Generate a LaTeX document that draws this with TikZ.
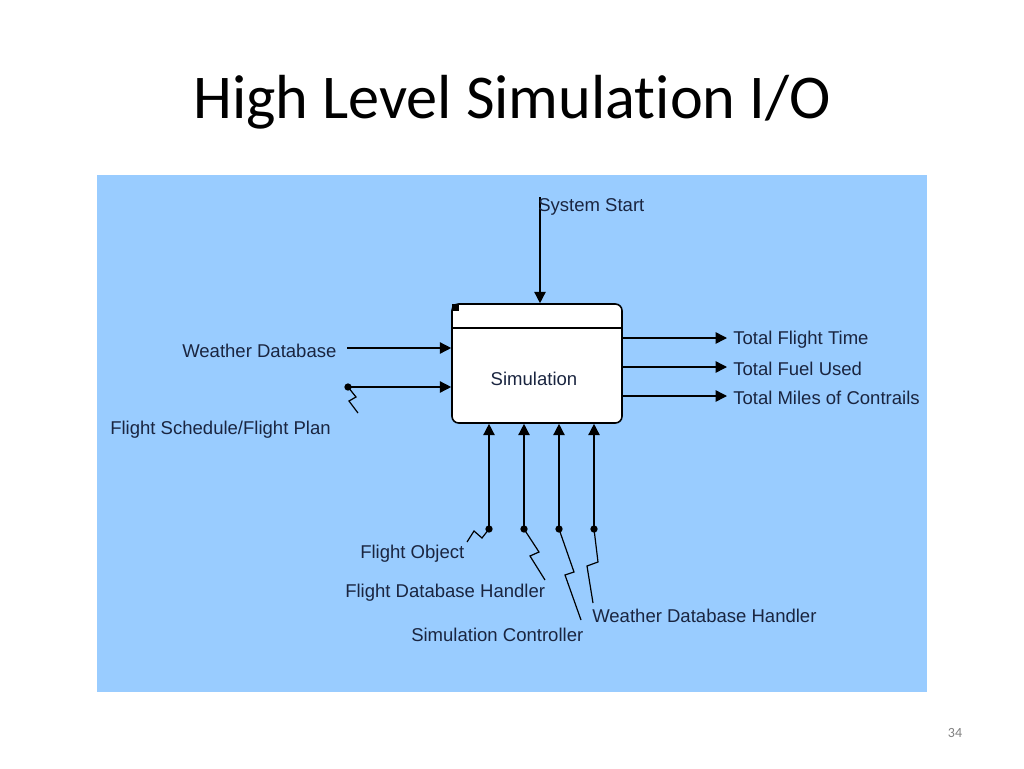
\documentclass[tikz,border=0pt]{standalone}
\usepackage{fontspec}
\setmainfont{Liberation Sans}
\newfontfamily\titlefont[Ligatures={NoCommon}]{Carlito}
\usetikzlibrary{arrows.meta}
\definecolor{bgblue}{HTML}{99CCFF}
\definecolor{txt}{HTML}{1A2540}
\begin{document}
\begin{tikzpicture}[x=0.75pt,y=-0.75pt,
 lbl/.style={font=\fontsize{13.9}{16}\selectfont, text=txt, inner sep=0pt, anchor=west},
 flow/.style={draw=black, line width=1.1pt, -{Triangle[length=8.5pt,width=8.5pt]}},
 tun/.style={draw=black, line width=0.9pt},
 dotc/.style={circle, fill=black, inner sep=0pt, minimum size=5.5pt},
 procbox/.style={draw=black, fill=white, line width=1.2pt, rounded corners=5pt, minimum width=127.5pt, minimum height=89.25pt, inner sep=0pt}]
\useasboundingbox (0,0) rectangle (1024,768);
\fill[white] (0,0) rectangle (1024,768);
\node[font=\titlefont\fontsize{46.7}{52}\selectfont] (title) at (512,102) {High Level Simulation I/O};
\node[font=\titlefont\fontsize{10.5}{12}\selectfont, text=gray] (page) at (955,733) {34};
\fill[bgblue] (97,175) rectangle (927,692);
% process box
\node[procbox] (sim) at (537,363.5) {};
\draw[line width=1.1pt] (452,328) -- (622,328);
\fill[black] (452,304) rectangle (459,311);
\node[font=\fontsize{13.9}{16}\selectfont, text=txt] (simlbl) at (534,379) {Simulation};
% control
\coordinate (ss) at (540,197);
\draw[flow] (ss) -- (ss |- sim.north);
\node[lbl] (sslbl) at (538,207) {System Start};
% inputs
\node[lbl] (wdb) at (182,351) {Weather Database};
\coordinate (w0) at (347,348);
\draw[flow] (w0) -- (w0 -| sim.west);
\node[dotc] (fsd) at (348,387) {};
\draw[flow] (fsd.center) -- (fsd.center -| sim.west);
\draw[tun] (fsd.center) -- (356,397) -- (349,401) -- (358,413);
\node[lbl] (fslbl) at (110,430) {Flight Schedule/Flight Plan};
% outputs
\node[lbl] (o1) at (733,340) {Total Flight Time};
\node[lbl] (o2) at (733,369) {Total Fuel Used};
\node[lbl] (o3) at (733,398) {Total Miles of Contrails};
\foreach \o/\y in {o1/338,o2/367,o3/396}{
  \coordinate (e\o) at (727,\y);
  \draw[flow] (e\o -| sim.east) -- (e\o);
}
% mechanisms
\node[dotc] (d1) at (489,529) {};
\node[dotc] (d2) at (524,529) {};
\node[dotc] (d3) at (559,529) {};
\node[dotc] (d4) at (594,529) {};
\foreach \d in {d1,d2,d3,d4}
  \draw[flow] (\d.center) -- (\d.center |- sim.south);
\draw[tun] (d1.center) -- (482,538) -- (474,531) -- (467,542);
\draw[tun] (d2.center) -- (539,552) -- (530,556) -- (545,580);
\draw[tun] (d3.center) -- (574,572) -- (565,575) -- (581,620);
\draw[tun] (d4.center) -- (598,562) -- (587,566) -- (593,603);
\node[lbl] (m1) at (360,554) {Flight Object};
\node[lbl] (m2) at (345,593) {Flight Database Handler};
\node[lbl] (m3) at (411,635) {Simulation Controller};
\node[lbl] (m4) at (592,616) {Weather Database Handler};
\end{tikzpicture}
\end{document}
